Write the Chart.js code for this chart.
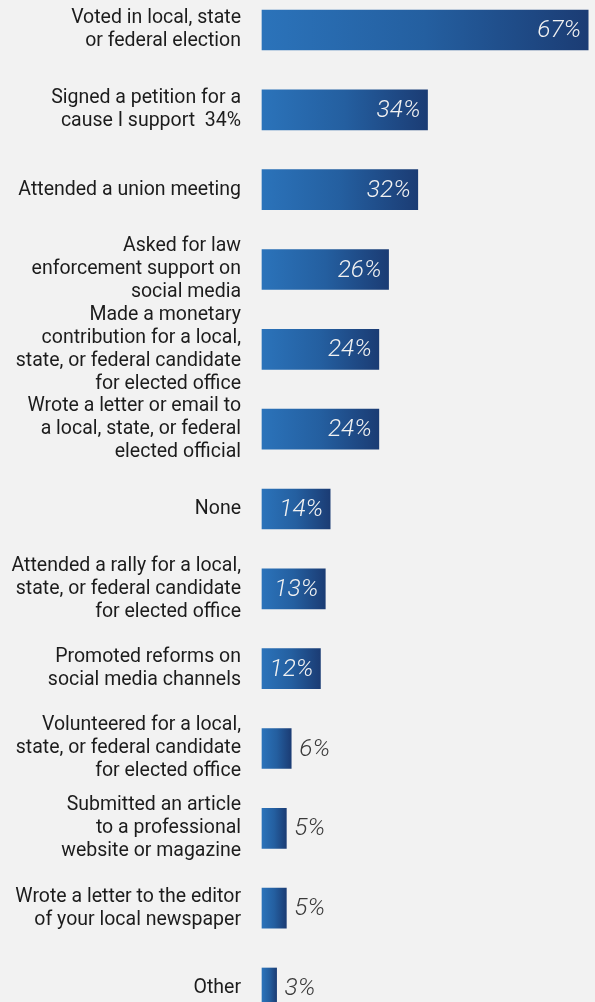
<!DOCTYPE html>
<html lang="en">
<head>
  <meta charset="UTF-8">
  <title>Civic activities</title>
  <script src="https://cdn.jsdelivr.net/npm/chart.js"></script>
  <style>
    html, body { margin: 0; padding: 0; background: #f2f2f2; }
    .wrap { width: 595px; height: 1002px; position: relative; }
  </style>
</head>
<body>
<div class="wrap">
  <canvas id="barChart"></canvas>
</div>

<script>
  // activity labels, split into the lines they are shown on
  const activities = [
    ['Voted in local, state', 'or federal election'],
    ['Signed a petition for a', 'cause I support  34%'],
    ['Attended a union meeting'],
    ['Asked for law', 'enforcement support on', 'social media'],
    ['Made a monetary', 'contribution for a local,', 'state, or federal candidate', 'for elected office'],
    ['Wrote a letter or email to', 'a local, state, or federal', 'elected official'],
    ['None'],
    ['Attended a rally for a local,', 'state, or federal candidate', 'for elected office'],
    ['Promoted reforms on', 'social media channels'],
    ['Volunteered for a local,', 'state, or federal candidate', 'for elected office'],
    ['Submitted an article', 'to a professional', 'website or magazine'],
    ['Wrote a letter to the editor', 'of your local newspaper'],
    ['Other']
  ];
  const percents = [67, 34, 32, 26, 24, 24, 14, 13, 12, 6, 5, 5, 3];

  // bars wide enough to hold their own label
  const insideFrom = 12;

  const valueLabels = {
    id: 'valueLabels',
    afterDatasetsDraw(chart) {
      const ctx = chart.ctx;
      const meta = chart.getDatasetMeta(0);
      ctx.save();
      ctx.font = 'italic 300 24.5px Roboto';
      ctx.textBaseline = 'middle';
      meta.data.forEach((bar, i) => {
        const v = percents[i];
        const txt = v + '%';
        if (v >= insideFrom) {
          ctx.fillStyle = '#f2f2f2';
          ctx.textAlign = 'right';
          ctx.fillText(txt, bar.x - 7, bar.y + 1);
        } else {
          ctx.fillStyle = '#3a3a3a';
          ctx.textAlign = 'left';
          ctx.fillText(txt, bar.x + 8, bar.y + 1);
        }
      });
      ctx.restore();
    }
  };

  function barGradient(c) {
    const chart = c.chart;
    if (!chart.chartArea) return '#235d9e';
    const x = chart.scales.x;
    const x0 = x.getPixelForValue(0);
    const x1 = x.getPixelForValue(c.raw);
    const g = chart.ctx.createLinearGradient(x0, 0, x1, 0);
    g.addColorStop(0, '#2b73ba');
    g.addColorStop(0.5, '#245fa0');
    g.addColorStop(1, '#1b3c74');
    return g;
  }

  const ctx = document.getElementById('barChart').getContext('2d');
  new Chart(ctx, {
    type: 'bar',
    data: {
      labels: activities,
      datasets: [{
        data: percents,
        backgroundColor: barGradient,
        borderWidth: 0,
        barThickness: 40,
        clip: false
      }]
    },
    options: {
      indexAxis: 'y',
      responsive: true,
      maintainAspectRatio: false,
      animation: false,
      layout: { padding: { top: 30, bottom: 14, left: 0, right: 0 } },
      scales: {
        x: {
          display: false,
          min: 0,
          max: 68.4
        },
        y: {
          offset: false,
          grid: { display: false, drawTicks: false },
          border: { display: false },
          afterFit: s => { s.width = 262; s.paddingTop = 0; s.paddingBottom = 0; },
          ticks: {
            autoSkip: false,
            padding: 21,
            color: '#1c1c1c',
            font: { family: 'Roboto', size: 19.5, lineHeight: 1.18 }
          }
        }
      },
      plugins: {
        legend: { display: false },
        tooltip: { enabled: false }
      }
    },
    plugins: [valueLabels]
  });
</script>
</body>
</html>
